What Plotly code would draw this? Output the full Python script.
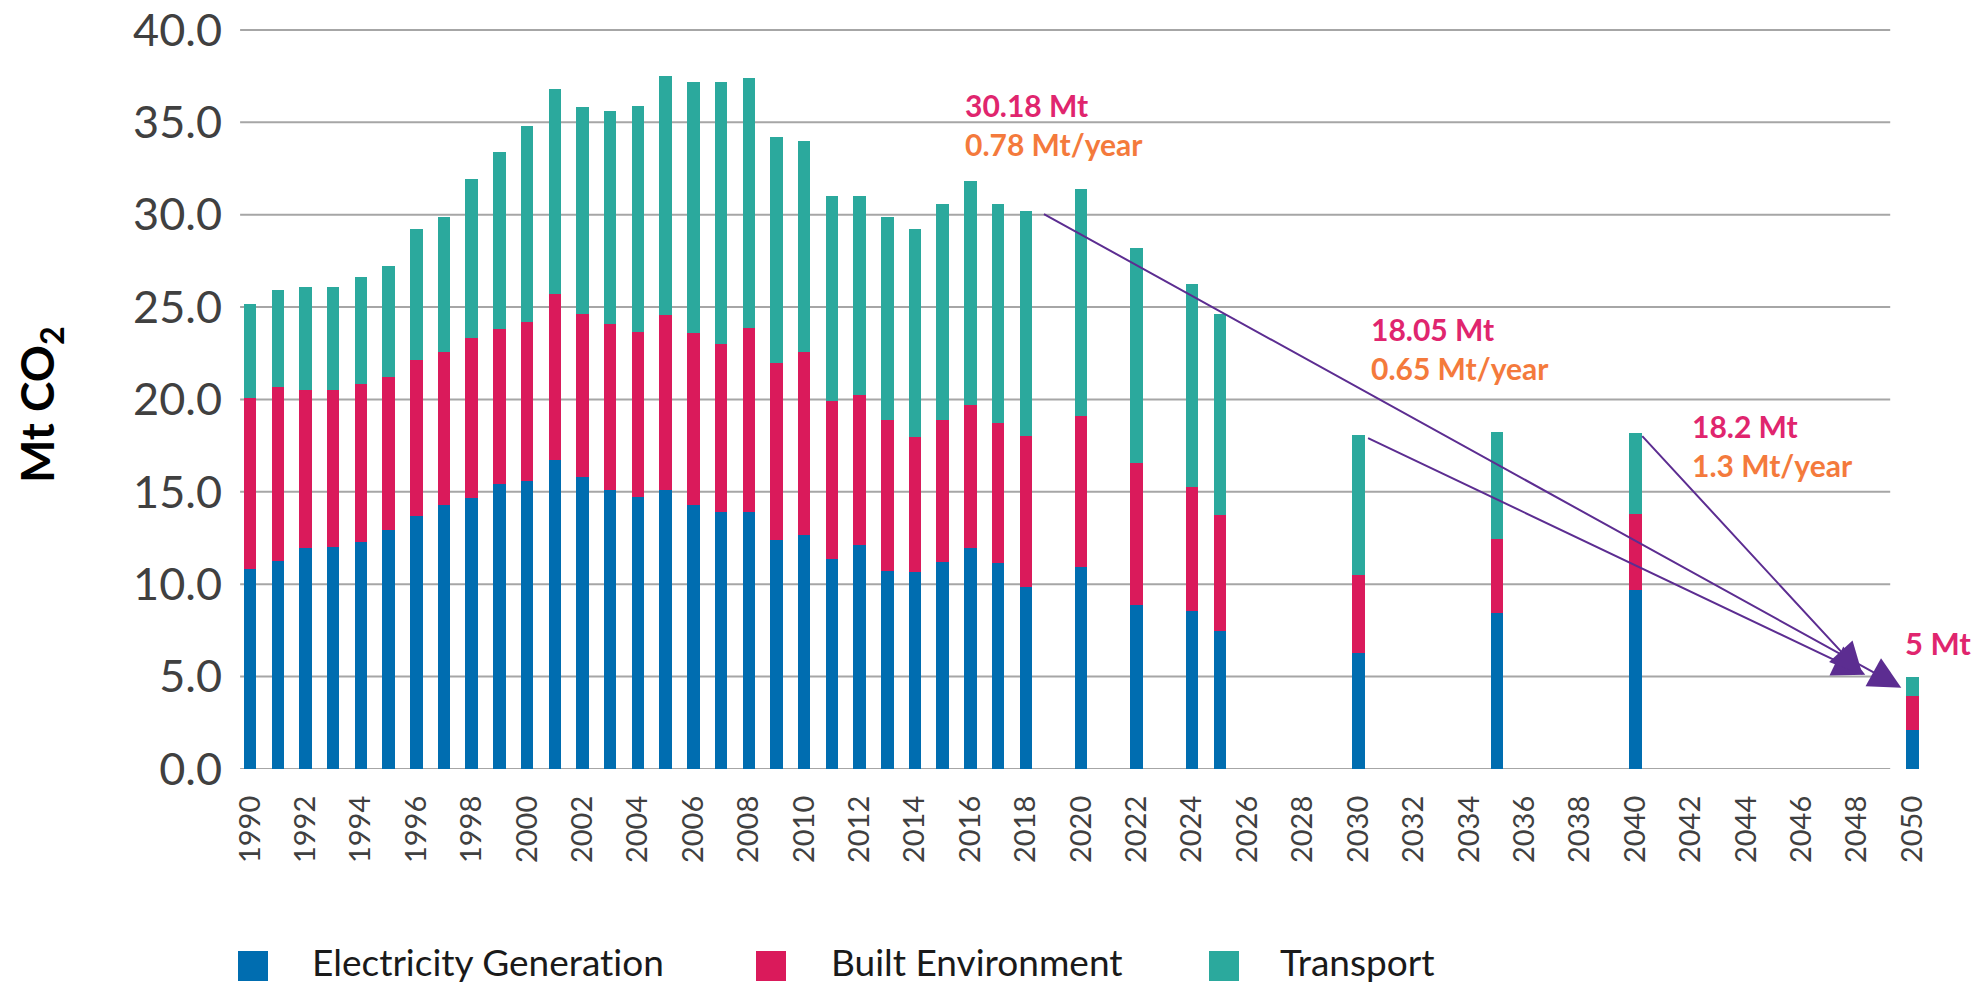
import plotly.graph_objects as go

# Emissions by sector, Mt CO2 (historic 1990-2018, projections 2020-2050)
years = list(range(1990, 2019)) + [2020, 2022, 2024, 2025, 2030, 2035, 2040, 2050]

electricity = [10.8, 11.25, 11.95, 12.0, 12.3, 12.95, 13.7, 14.3, 14.65, 15.4,
               15.6, 16.7, 15.8, 15.1, 14.7, 15.1, 14.3, 13.9, 13.9, 12.4,
               12.65, 11.35, 12.15, 10.7, 10.65, 11.2, 11.95, 11.15, 9.85,
               10.95, 8.9, 8.55, 7.45, 6.3, 8.45, 9.7, 2.1]

built_env = [9.3, 9.4, 8.55, 8.5, 8.55, 8.25, 8.45, 8.25, 8.65, 8.4,
             8.6, 9.0, 8.8, 9.0, 8.95, 9.45, 9.3, 9.1, 9.95, 9.55,
             9.9, 8.55, 8.1, 8.2, 7.3, 7.7, 7.75, 7.6, 8.15,
             8.15, 7.65, 6.7, 6.3, 4.2, 4.0, 4.1, 1.85]

transport = [5.05, 5.25, 5.6, 5.6, 5.8, 6.05, 7.05, 7.35, 8.65, 9.6,
             10.6, 11.1, 11.25, 11.5, 12.25, 12.95, 13.6, 14.2, 13.55, 12.25,
             11.45, 11.1, 10.75, 10.95, 11.25, 11.7, 12.1, 11.85, 12.18,
             12.3, 11.65, 11.0, 10.85, 7.55, 5.8, 4.4, 1.05]

series_names = ["Electricity Generation", "Built Environment", "Transport"]
series_colors = ["#006DB0", "#DA1A5B", "#2BA99D"]

# Reduction pathways: start year, tip (year, value), label lines
path_starts = [2018, 2030, 2040]
path_tips_year = [2049.6, 2048.3, 2048.2]
path_tips_value = [4.4, 5.1, 5.1]
path_labels_total = ["30.18 Mt", "18.05 Mt", "18.2 Mt"]
path_labels_rate = ["0.78 Mt/year", "0.65 Mt/year", "1.3 Mt/year"]
target_label = "5 Mt"

y_ticks = [0, 5, 10, 15, 20, 25, 30, 35, 40]
x_ticks = list(range(1990, 2051, 2))

W, H = 1978, 986
ML, MR, MT, MB = 239, 49, 29, 217
PW, PH = W - ML - MR, H - MT - MB
X0, X1 = 1989.6, 2050.6
Y1 = 40.05


def px_to_year(px):
    return X0 + (px - ML) / PW * (X1 - X0)


def py_to_val(py):
    return (H - MB - py) / PH * Y1


def px_paper(px):
    return (px - ML) / PW


def py_paper(py):
    return (H - MB - py) / PH


FONT = "Lato"
PINK = "#E0256E"
ORANGE = "#F47A3C"
PURPLE = "#5C2D91"

fig = go.Figure()
for name, vals, col in zip(series_names, [electricity, built_env, transport], series_colors):
    fig.add_trace(go.Bar(x=years, y=vals, name=name, marker_color=col,
                         marker_line_width=0, width=0.45, showlegend=False))

totals = {yr: e + b + t for yr, e, b, t in zip(years, electricity, built_env, transport)}

# horizontal gridlines (they stop short of the 2050 bar)
shapes = []
for v in y_ticks:
    shapes.append(dict(type="line", xref="x", yref="y", x0=1989.64, x1=2049.2, y0=v, y1=v,
                       line=dict(color="#A6A6A6", width=2), layer="below"))

annotations = []
# arrows from the start of each pathway to the 2050 target
offsets = [0.6, 0.3, 0.2]
for start, off, tx, ty in zip(path_starts, offsets, path_tips_year, path_tips_value):
    annotations.append(dict(x=tx, y=ty, ax=start + off, ay=totals[start] - 0.1,
                            xref="x", yref="y", axref="x", ayref="y", text="",
                            showarrow=True, arrowhead=2, arrowsize=3.2, arrowwidth=2.0,
                            arrowcolor=PURPLE, standoff=0))

# two-line pathway labels: total (pink) over yearly rate (orange)
label_pos = [(963, 106, 143.5), (1369, 331, 366), (1690, 428, 463)]
for (lx, y1, y2), t1, t2 in zip(label_pos, path_labels_total, path_labels_rate):
    annotations.append(dict(x=px_to_year(lx), y=py_to_val((y1 + y2) / 2), xref="x", yref="y",
                            text=f"<span style='color:{PINK}'>{t1}</span><br>"
                                 f"<span style='color:{ORANGE}'>{t2}</span>",
                            align="left", showarrow=False, xanchor="left", yanchor="middle",
                            font=dict(family=FONT, size=30, color=PINK, weight="bold")))
annotations.append(dict(x=px_to_year(1903), y=py_to_val(643), xref="x", yref="y",
                        text=target_label, showarrow=False, xanchor="left", yanchor="middle",
                        font=dict(family=FONT, size=31, color=PINK, weight="bold")))

# axis title
annotations.append(dict(x=px_paper(40), y=py_paper(405), xref="paper", yref="paper",
                        text="Mt CO<sub>2</sub>", textangle=-90, showarrow=False,
                        xanchor="center", yanchor="middle",
                        font=dict(family=FONT, size=46, color="#000000", weight="bold")))

# legend row (zero-width non-joiner keeps "ti" from forming a ligature)
legend_marks = [(238, 310), (756, 829), (1209, 1278)]
for (mx, tx), name, col in zip(legend_marks, series_names, series_colors):
    shapes.append(dict(type="rect", xref="paper", yref="paper",
                       x0=px_paper(mx), x1=px_paper(mx + 30),
                       y0=py_paper(981), y1=py_paper(951),
                       fillcolor=col, line=dict(width=0)))
    annotations.append(dict(x=px_paper(tx), y=py_paper(962), xref="paper", yref="paper",
                            text=name.replace("ti", "t\u200ci"), showarrow=False,
                            xanchor="left", yanchor="middle",
                            font=dict(family=FONT, size=37, color="#1a1a1a")))

fig.update_layout(
    width=W, height=H,
    margin=dict(l=ML, r=MR, t=MT, b=MB, autoexpand=False),
    barmode="stack",
    plot_bgcolor="white", paper_bgcolor="white",
    shapes=shapes, annotations=annotations,
    xaxis=dict(range=[X0, X1], tickvals=x_ticks, ticktext=[str(v) for v in x_ticks],
               tickangle=-90, showgrid=False, zeroline=False, showline=False,
               ticks="", ticklabelstandoff=20, automargin=False, ticklabeloverflow="allow",
               tickfont=dict(family=FONT, size=29, color="#404040")),
    yaxis=dict(range=[0, Y1], tickvals=y_ticks, ticktext=[f"{v:.1f}" for v in y_ticks],
               showgrid=False, zeroline=False, showline=False, ticks="",
               ticklabelstandoff=16, automargin=False, ticklabeloverflow="allow",
               tickfont=dict(family=FONT, size=45, color="#404040")),
)

fig.write_html("out.html")
